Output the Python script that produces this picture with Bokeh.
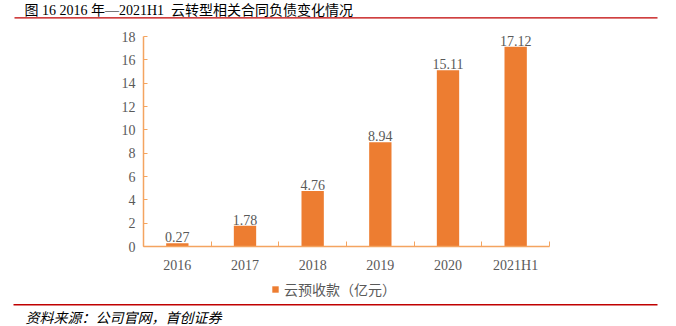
from bokeh.plotting import figure
from bokeh.models import (Label, Legend, LegendItem, FixedTicker, ColumnDataSource, Range1d,
                          LinearAxis, BoxAnnotation)
from bokeh.embed import file_html
from bokeh.resources import INLINE
from bokeh.core.properties import value

categories = ["2016", "2017", "2018", "2019", "2020", "2021H1"]
values = [0.27, 1.78, 4.76, 8.94, 15.11, 17.12]
value_labels = ["0.27", "1.78", "4.76", "8.94", "15.11", "17.12"]
y_ticks = [0, 2, 4, 6, 8, 10, 12, 14, 16, 18]
series_name = "云预收款（亿元）"
title_text = "图 16 2016 年—2021H1\u00a0\u00a0云转型相关合同负债变化情况"
source_text = "资料来源：公司官网，首创证券"

ORANGE = "#ED7D31"
AXIS = "#F4A460"
GRAY = "#595959"
RED = "#C00000"
SERIF = "Liberation Serif"
CJK = "Noto Sans CJK SC"
MIXED = "'Liberation Serif', 'Noto Sans CJK SC'"

W, H = 676, 326
# plot-area placement in canvas pixels
AX_LEFT, AX_RIGHT, AX_TOP, AX_ZERO = 143, 549, 36, 246
Y_MAX = 18
n = len(categories)
px_x = (AX_RIGHT - AX_LEFT) / n
px_y = (AX_ZERO - AX_TOP) / Y_MAX

p = figure(width=W, height=H, output_backend="svg", toolbar_location=None,
           x_range=Range1d(-AX_LEFT / px_x, (W - AX_LEFT) / px_x),
           y_range=Range1d(-(H - AX_ZERO) / px_y, AX_ZERO / px_y),
           x_axis_location=None, y_axis_location=None, min_border=0)
p.outline_line_color = None
p.xgrid.visible = False
p.ygrid.visible = False

xs = [i + 0.5 for i in range(n)]
src = ColumnDataSource(dict(x=xs, top=values, lab=value_labels))

r = p.vbar(x="x", top="top", width=0.33, source=src, fill_color=ORANGE, line_color=None)
p.text(x="x", y="top", text="lab", source=src, text_align="center",
       text_baseline="bottom", y_offset=-1,
       text_font=value(SERIF), text_font_size="14px", text_color=GRAY)

yax = LinearAxis(fixed_location=0, bounds=(0, Y_MAX), ticker=FixedTicker(ticks=y_ticks))
yax.axis_line_color = AXIS
yax.axis_line_width = 1.5
yax.major_tick_line_color = AXIS
yax.major_tick_in = 4
yax.major_tick_out = 0
yax.minor_tick_line_color = None
yax.major_label_text_font = SERIF
yax.major_label_text_font_size = "14px"
yax.major_label_text_color = GRAY
yax.major_label_standoff = 8
p.add_layout(yax, "left")

xax = LinearAxis(fixed_location=0, bounds=(0, n),
                 ticker=FixedTicker(ticks=xs, minor_ticks=list(range(n + 1))))
xax.major_label_overrides = {x: c for x, c in zip(xs, categories)}
xax.axis_line_color = AXIS
xax.axis_line_width = 1.5
xax.major_tick_line_color = None
xax.major_tick_in = 0
xax.major_tick_out = 0
xax.minor_tick_line_color = AXIS
xax.minor_tick_in = 5
xax.minor_tick_out = 0
xax.major_label_text_font = SERIF
xax.major_label_text_font_size = "14px"
xax.major_label_text_color = GRAY
xax.major_label_standoff = 11
p.add_layout(xax, "below")

legend = Legend(items=[LegendItem(label=series_name, renderers=[r])],
                location=(271, 27), orientation="horizontal",
                glyph_width=8, glyph_height=8, label_standoff=5, padding=0, margin=0,
                border_line_color=None, background_fill_alpha=0,
                label_text_font=CJK, label_text_font_size="14px", label_text_color=GRAY)
p.add_layout(legend, "center")


def hline(y_canvas, x0, x1, thick):
    return BoxAnnotation(left=x0, right=x1, top=H - y_canvas + thick / 2,
                         bottom=H - y_canvas - thick / 2,
                         left_units="screen", right_units="screen",
                         top_units="screen", bottom_units="screen",
                         fill_color=RED, fill_alpha=1, line_color=None)


p.add_layout(Label(x=24, y=H - 9.5, x_units="screen", y_units="screen", text=title_text,
                   text_font=MIXED, text_font_size="14px", text_color="black",
                   text_baseline="middle"))
p.add_layout(hline(17.3, 14, 657, 1.3))
p.add_layout(hline(304.3, 13, 657, 1.5))
p.add_layout(Label(x=25, y=H - 316.7, x_units="screen", y_units="screen", text=source_text,
                   text_font=CJK, text_font_size="14px", text_font_style="italic",
                   text_color="black", text_baseline="middle"))

open("out.html", "w").write(file_html(p, INLINE))
